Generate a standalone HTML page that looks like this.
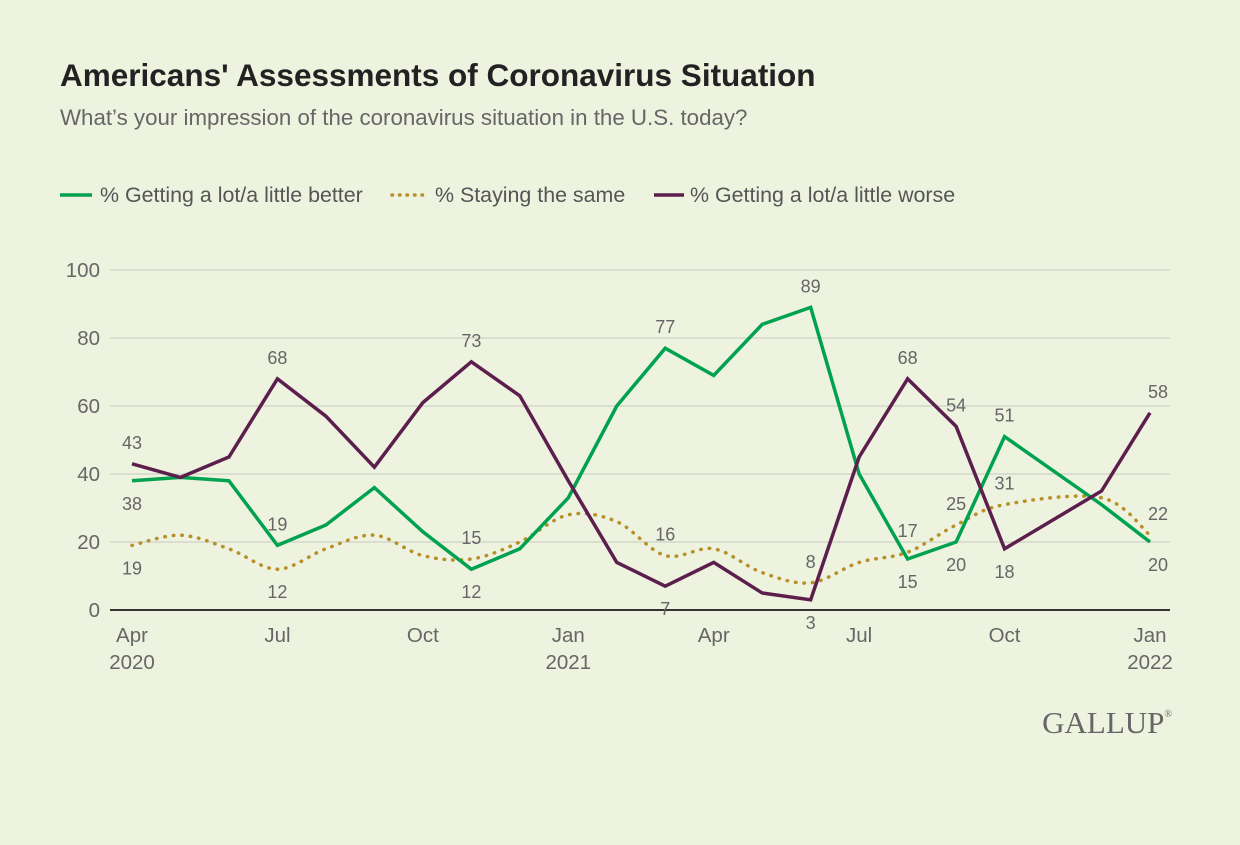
<!DOCTYPE html>
<html><head><meta charset="utf-8"><style>
body{margin:0;background:#edf3df;font-family:"Liberation Sans",sans-serif;}
svg text{font-family:"Liberation Sans",sans-serif;}
</style></head><body>
<svg id="chart" width="1240" height="840" xmlns="http://www.w3.org/2000/svg">
<rect width="1240" height="840" fill="#edf3df"/>
<text x="60" y="86" font-size="31.5" font-weight="bold" fill="#222">Americans' Assessments of Coronavirus Situation</text>
<text x="60" y="125" font-size="22.3" fill="#666">What’s your impression of the coronavirus situation in the U.S. today?</text>
<g>
<line x1="60" y1="195" x2="92" y2="195" stroke="#00a24f" stroke-width="3.5"/>
<text x="100" y="202" font-size="21.4" fill="#555">% Getting a lot/a little better</text>
<line x1="392" y1="195" x2="426" y2="195" stroke="#b8902a" stroke-width="3.5" stroke-dasharray="0.5 7" stroke-linecap="round"/>
<text x="435" y="202" font-size="21.4" fill="#555">% Staying the same</text>
<line x1="654" y1="195" x2="684" y2="195" stroke="#5c1f4d" stroke-width="3.5"/>
<text x="690" y="202" font-size="21.4" fill="#555">% Getting a lot/a little worse</text>
</g>
<g id="plot"></g>
<text x="1172" y="733" font-size="31" text-anchor="end" fill="#666" style="font-family:'Liberation Serif',serif">GALLUP<tspan font-size="10" dy="-16">®</tspan></text>
</svg>
<script>
const monthIdx=[0,1,2,3,4,5,6,7,8,9,10,11,12,13,14,15,16,17,18,20,21];
const better=[38,39,38,19,25,36,23,12,18,33,60,77,69,84,89,40,15,20,51,31,20];
const same=[19,22,18,12,18,22,16,15,20,28,26,16,18,11,8,14,17,25,31,33,22];
const worse=[43,39,45,68,57,42,61,73,63,38,14,7,14,5,3,45,68,54,18,35,58];
const yTicks=[0,20,40,60,80,100];
const xTickMonths=[0,3,6,9,12,15,18,21];
const xTickLine1=["Apr","Jul","Oct","Jan","Apr","Jul","Oct","Jan"];
const xTickLine2=["2020","","","2021","","","","2022"];
const labelSeries=["worse","better","same","worse","better","same","worse","same","better","better","same","worse","better","same","worse","worse","same","better","worse","same","better","better","same","worse","worse","same","better"];
const labelPoint=[0,0,0,3,3,3,7,7,7,11,11,11,14,14,14,16,16,16,17,17,17,18,18,18,20,20,20];
const labelSide=[1,-1,-1,1,1,-1,1,1,-1,1,1,-1,1,1,-1,1,1,-1,1,1,-1,1,1,-1,1,1,-1];
const NS="http://www.w3.org/2000/svg";
const X0=132,X1=1150,Y0=610,Y1=270;
const x=m=>X0+(X1-X0)*m/21;
const y=v=>Y0-(Y0-Y1)*v/100;
const g=document.getElementById('plot');
function mk(t,a){const e=document.createElementNS(NS,t);for(const k in a)e.setAttribute(k,a[k]);g.appendChild(e);return e;}
yTicks.forEach(v=>{
 const l=mk('line',{x1:110,x2:1170,y1:y(v),y2:y(v),stroke:v===0?'#333':'#d3d8c8','stroke-width':v===0?2:1.5});
 
 
 const t=mk('text',{x:100,y:y(v)+7,'font-size':20.5,fill:'#666','text-anchor':'end'});t.textContent=v;
 
 
});
xTickMonths.forEach((m,i)=>{
 const t=mk('text',{x:x(m),y:642,'font-size':20.5,fill:'#666','text-anchor':'middle'});t.textContent=xTickLine1[i];
 
 
 if(xTickLine2[i]){const t2=mk('text',{x:x(m),y:669,'font-size':20.5,fill:'#666','text-anchor':'middle'});t2.textContent=xTickLine2[i];
 
 }
});
function pts(d){return d.map((v,i)=>[x(monthIdx[i]),y(v)]);}
function smooth(p){let s=`M${p[0][0]},${p[0][1]}`;for(let i=0;i<p.length-1;i++){const p0=p[i-1]||p[i],p1=p[i],p2=p[i+1],p3=p[i+2]||p2;const t=6;s+=` C${p1[0]+(p2[0]-p0[0])/t},${p1[1]+(p2[1]-p0[1])/t} ${p2[0]-(p3[0]-p1[0])/t},${p2[1]-(p3[1]-p1[1])/t} ${p2[0]},${p2[1]}`;}return s;}
const sameLine=mk('path',{d:smooth(pts(same)),fill:'none',stroke:'#b8902a','stroke-width':3.5,'stroke-dasharray':'0.5 8','stroke-linecap':'round'});


const betterLine=mk('polyline',{points:pts(better).join(' '),fill:'none',stroke:'#00a24f','stroke-width':3.5,'stroke-linejoin':'miter'});


const worseLine=mk('polyline',{points:pts(worse).join(' '),fill:'none',stroke:'#5c1f4d','stroke-width':3.5,'stroke-linejoin':'miter'});


const data={better,same,worse};
labelSeries.forEach((s,i)=>{
 const j=labelPoint[i],v=data[s][j];
 const t=mk('text',{x:x(monthIdx[j])+(j===20?8:0),y:y(v)+(labelSide[i]>0?-15:29),'font-size':18,fill:'#666','text-anchor':'middle'});
 t.textContent=v;
 
 
});
</script>
</body></html>
